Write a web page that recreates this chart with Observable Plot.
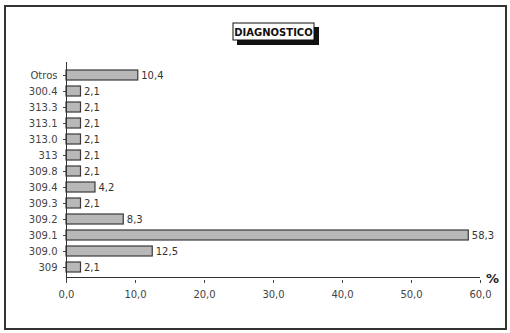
<!DOCTYPE html>
<html><head><meta charset="utf-8">
<script src="https://cdn.jsdelivr.net/npm/d3@7"></script>
<script src="https://cdn.jsdelivr.net/npm/@observablehq/plot@0.6"></script>
<style>
html,body{margin:0;padding:0;background:#fff;}
#chart{position:relative;width:510px;height:333px;}
</style></head>
<body><div id="chart"></div>
<script>
const categories = ["Otros","300.4","313.3","313.1","313.0","313","309.8","309.4","309.3","309.2","309.1","309.0","309"];
const values = [10.4,2.1,2.1,2.1,2.1,2.1,2.1,4.2,2.1,8.3,58.3,12.5,2.1];
const xTicks = [0,10,20,30,40,50,60];
const title = "DIAGNOSTICO";
const unit = "%";

const data = categories.map((c,i)=>({cat:c, val:values[i]}));
const fmt = v => v.toFixed(1).replace(".", ",");
const font = "DejaVu Sans";

const plot = Plot.plot({
  width: 510, height: 333,
  marginLeft: 66, marginRight: 30, marginTop: 62, marginBottom: 53,
  style: {fontFamily: font, fontSize: "10px", color: "#444", background: "#fff"},
  x: {domain: [0, 60], ticks: xTicks, tickFormat: fmt, tickSize: 3, label: null},
  y: {domain: categories, padding: 0.38, label: null, tickSize: 3},
  marks: [
    Plot.barX(data, {y: "cat", x: "val", fill: "#b8b8b8", stroke: "#3a3a3a", strokeWidth: 1.2}),
    Plot.text(data, {y: "cat", x: "val", text: d => fmt(d.val), textAnchor: "start", dx: 3, fill: "#333"}),
    Plot.ruleY([0], {y: () => categories[categories.length-1], x1: 0, x2: 60, dy: 10, stroke: "#333", strokeWidth: 1}),
    Plot.ruleX([0], {stroke: "#333"}),
    Plot.text([unit], {x: () => 60, frameAnchor: "bottom", text: d => d, dx: 12, dy: 2, fontWeight: "bold", fontSize: 13, fill: "#222"}),
    Plot.axisX({ticks: xTicks, tickFormat: fmt, tickSize: 3, tickPadding: 7, label: null}),
    Plot.axisY({tickSize: 3, label: null})
  ]
});
document.getElementById("chart").appendChild(plot);

const svg = d3.select(plot);
// outer frame
svg.insert("rect", ":first-child").attr("x", 5).attr("y", 6).attr("width", 501).attr("height", 323)
  .attr("fill", "none").attr("stroke", "#333").attr("stroke-width", 2);
// title box with shadow
const g = svg.append("g");
g.append("rect").attr("x", 237).attr("y", 27).attr("width", 82).attr("height", 18).attr("fill", "#111");
g.append("rect").attr("x", 233).attr("y", 23).attr("width", 81).attr("height", 17).attr("fill", "#fff").attr("stroke", "#111").attr("stroke-width", 1);
g.append("text").attr("x", 273.5).attr("y", 35.5).attr("text-anchor", "middle")
  .attr("font-family", font).attr("font-weight", "bold").attr("font-size", 10).attr("fill", "#111").text(title);
</script></body></html>
